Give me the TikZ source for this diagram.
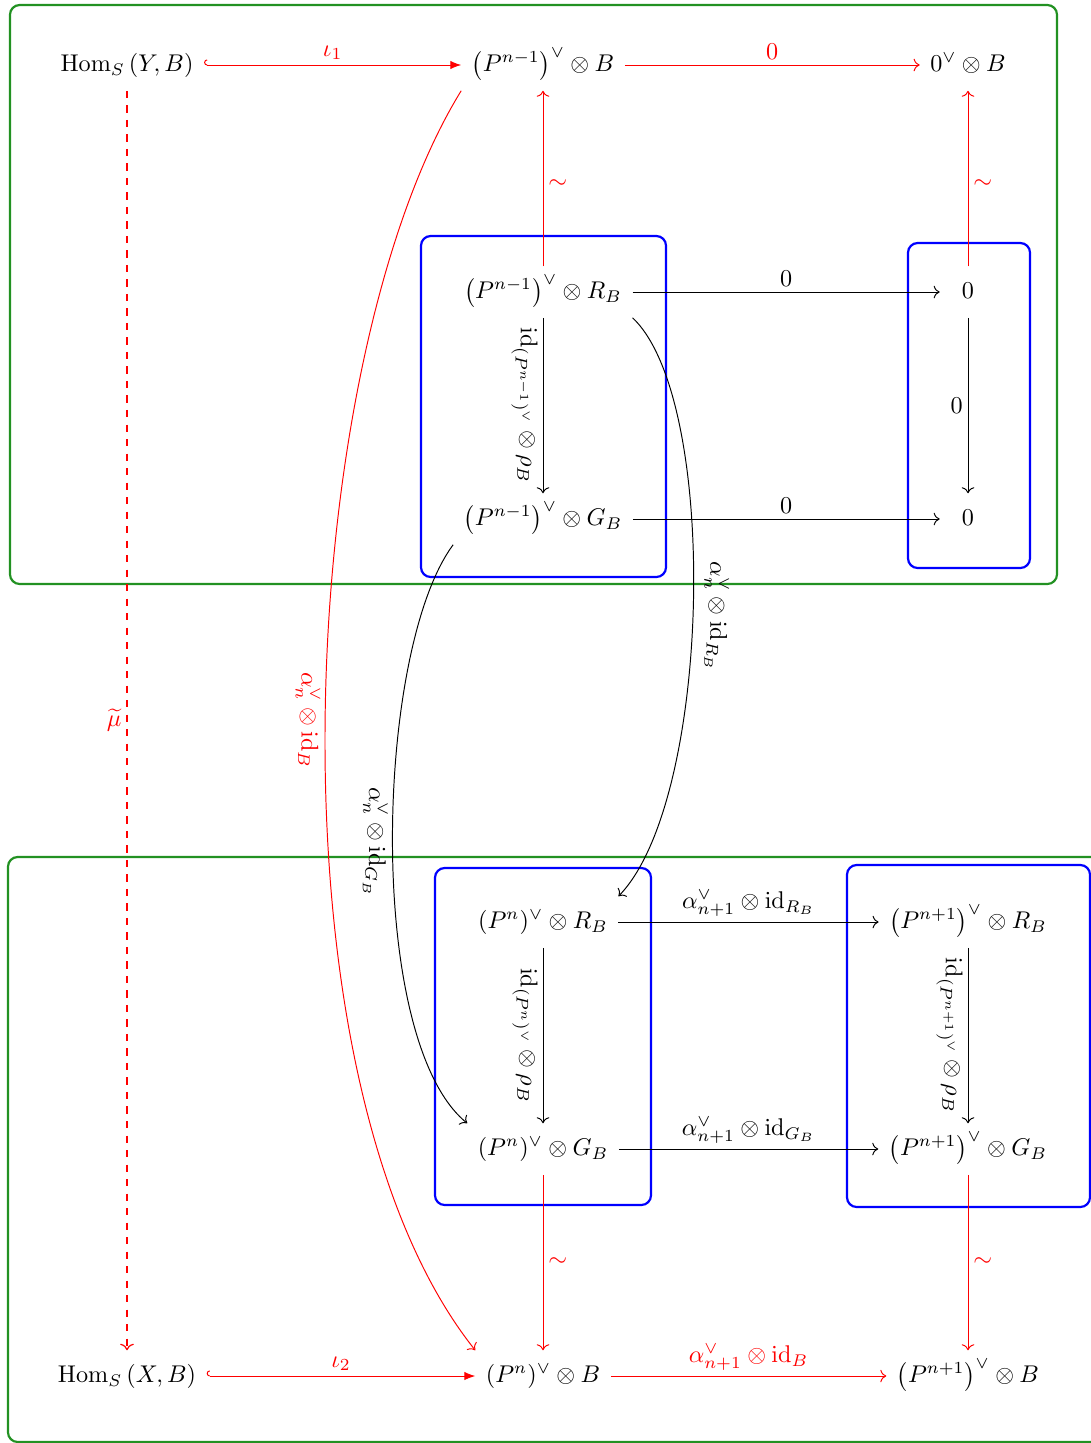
\documentclass[tikz,border=0pt]{standalone}
\usepackage{amsmath,amssymb}
\usetikzlibrary{arrows.meta}
\definecolor{grn}{RGB}{34,145,34}
\begin{document}
\begin{tikzpicture}[x=0.4135pt,y=-0.4135pt,
  obj/.style={inner sep=4.2pt, text height=9pt, text depth=3.5pt},
  zobj/.style={obj, minimum width=23pt},
  ar/.style={-{Computer Modern Rightarrow}, line width=0.4pt},
  rar/.style={ar, red},
  hookar/.style={red, line width=0.4pt, {Hooks[right]}-{Latex[length=4.5pt,width=3.5pt]}},
  lab/.style={inner sep=2pt},
  rlab/.style={lab, rotate=-90},
  gbox/.style={draw=grn, line width=0.9pt, rounded corners=4pt},
  bbox/.style={draw=blue, line width=0.9pt, rounded corners=4pt}]
\useasboundingbox (0,0) rectangle (1091,1443);

% frames
\draw[gbox] (10,5) rectangle (1057,584);
\draw[gbox] (8,857) rectangle (1110,1442);
\draw[bbox] (421,236) rectangle (666,577);
\draw[bbox] (908,243) rectangle (1030,568);
\draw[bbox] (435,868) rectangle (651,1205);
\draw[bbox] (847,865) rectangle (1090,1207);

% nodes
\node[obj] (HY) at (127,65) {$\operatorname{Hom}_S\left(Y,B\right)$};
\node[obj] (P1B) at (543,65) {$\left(P^{n-1}\right)^{\vee}\otimes B$};
\node[obj] (ZB) at (968,65) {$0^{\vee}\otimes B$};
\node[obj] (P1R) at (543,292) {$\left(P^{n-1}\right)^{\vee}\otimes R_B$};
\node[zobj] (Z1) at (968,292) {$0$};
\node[obj] (P1G) at (543,519) {$\left(P^{n-1}\right)^{\vee}\otimes G_B$};
\node[zobj] (Z2) at (968,519) {$0$};
\node[obj] (PR) at (543,922) {$(P^{n})^{\vee}\otimes R_B$};
\node[obj] (QR) at (968,922) {$\left(P^{n+1}\right)^{\vee}\otimes R_B$};
\node[obj] (PG) at (543,1149) {$(P^{n})^{\vee}\otimes G_B$};
\node[obj] (QG) at (968,1149) {$\left(P^{n+1}\right)^{\vee}\otimes G_B$};
\node[obj] (HX) at (127,1376) {$\operatorname{Hom}_S\left(X,B\right)$};
\node[obj] (PB) at (543,1376) {$(P^{n})^{\vee}\otimes B$};
\node[obj] (QB) at (968,1376) {$\left(P^{n+1}\right)^{\vee}\otimes B$};

% top row
\draw[hookar] (HY) -- node[lab, above, red] {$\iota_1$} (P1B);
\draw[rar] (P1B) -- node[lab, above, red] {$0$} (ZB);
\draw[rar] (P1R) -- node[lab, right, red, pos=0.47] {$\sim$} (P1B);
\draw[rar] (Z1) -- node[lab, right, red, pos=0.47] {$\sim$} (ZB);

% upper block
\draw[ar] (P1R) -- node[lab, above] {$0$} (Z1);
\draw[ar] (P1G) -- node[lab, above] {$0$} (Z2);
\draw[ar] (P1R) -- node[rlab, anchor=north] {$\mathrm{id}_{\left(P^{n-1}\right)^{\vee}}\otimes\rho_B$} (P1G);
\draw[ar] (Z1) -- node[lab, left] {$0$} (Z2);

% curved maps
\draw[ar] (P1R.south east) .. controls (720,400) and (712,800) .. node[rlab, anchor=south, pos=0.52, inner sep=4.5pt] {$\alpha_n^{\vee}\otimes\mathrm{id}_{R_B}$} (PR.north east);
\draw[ar] (P1G.south west) .. controls (375,650) and (365,1040) .. node[rlab, anchor=north] {$\alpha_n^{\vee}\otimes\mathrm{id}_{G_B}$} (PG.north west);
\draw[rar] (P1B.south west) .. controls (295,360) and (260,1080) .. node[rlab, anchor=north, red] {$\alpha_n^{\vee}\otimes\mathrm{id}_{B}$} (PB.north west);

% dashed
\draw[rar, dashed, line width=0.5pt] (HY) -- node[lab, left, red] {$\widetilde{\mu}$} (HX);

% lower block
\draw[ar] (PR) -- node[lab, above] {$\alpha_{n+1}^{\vee}\otimes\mathrm{id}_{R_B}$} (QR);
\draw[ar] (PG) -- node[lab, above] {$\alpha_{n+1}^{\vee}\otimes\mathrm{id}_{G_B}$} (QG);
\draw[ar] (PR) -- node[rlab, anchor=north] {$\mathrm{id}_{(P^{n})^{\vee}}\otimes\rho_B$} (PG);
\draw[ar] (QR) -- node[rlab, anchor=north] {$\mathrm{id}_{\left(P^{n+1}\right)^{\vee}}\otimes\rho_B$} (QG);
\draw[rar] (PG) -- node[lab, right, red] {$\sim$} (PB);
\draw[rar] (QG) -- node[lab, right, red] {$\sim$} (QB);

% bottom row
\draw[hookar] (HX) -- node[lab, above, red] {$\iota_2$} (PB);
\draw[rar] (PB) -- node[lab, above, red] {$\alpha_{n+1}^{\vee}\otimes\mathrm{id}_{B}$} (QB);
\end{tikzpicture}
\end{document}
